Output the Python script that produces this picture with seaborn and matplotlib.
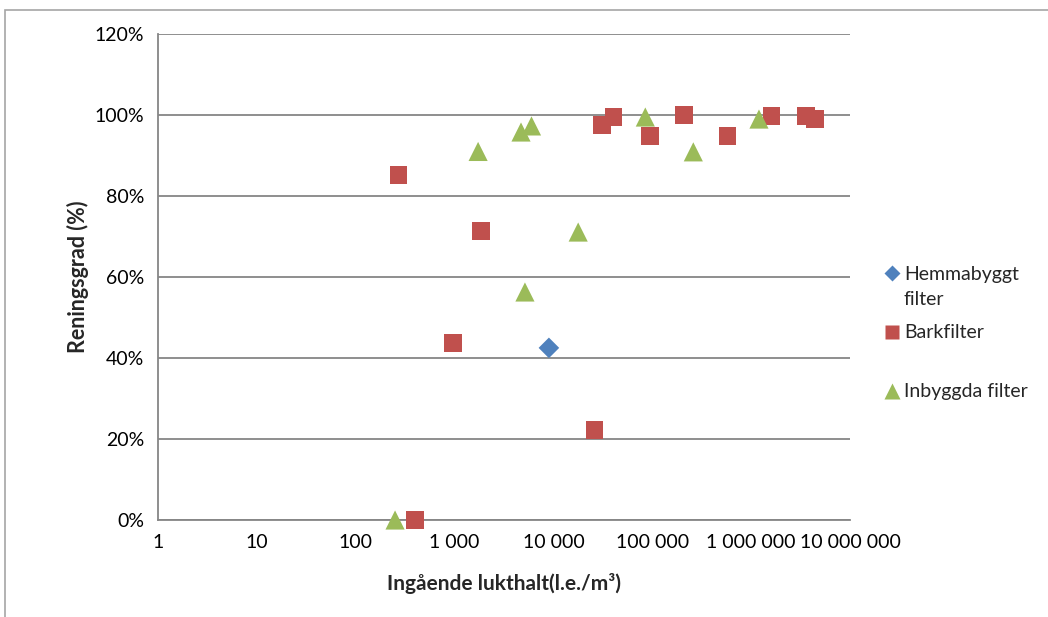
import seaborn as sns
from matplotlib import pyplot as plt
from matplotlib.patches import Rectangle
import pandas as pd

# Values (x = inlet odour, y = removal %)
hemma_x = [9000]
hemma_y = [42.5]

bark_x = [270, 400, 970, 1860, 25900, 31000, 40500, 95000, 210000, 575000, 1600000, 3600000, 4450000]
bark_y = [85.2, 0, 43.7, 71.4, 22.2, 97.5, 99.5, 94.8, 100, 94.8, 99.8, 99.8, 99.0]

inb_x = [250, 1730, 4700, 6000, 17800, 5150, 85000, 260000, 1200000]
inb_y = [0, 91.0, 95.8, 97.3, 71.1, 56.3, 99.5, 90.9, 99.0]

groups = ['Hemmabyggt filter', 'Barkfilter', 'Inbyggda filter']
colors = ['#4F81BD', '#C0504D', '#9BBB59']
marks = ['D', 's', '^']
msizes = [110, 160, 190]

xticks = [1, 10, 100, 1000, 10000, 100000, 1000000, 10000000]
xticklabels = ['1', '10', '100', '1 000', '10 000', '100 000', '1 000 000', '10 000 000']
yticks = [0, 20, 40, 60, 80, 100, 120]

df = pd.DataFrame({
    'x': hemma_x + bark_x + inb_x,
    'y': hemma_y + bark_y + inb_y,
    'grupp': [groups[0]] * len(hemma_x) + [groups[1]] * len(bark_x) + [groups[2]] * len(inb_x),
})

sns.set_style('white')
plt.rcParams['font.family'] = ['Lato', 'DejaVu Sans']
gray = '#868686'

fig = plt.figure(figsize=(10.48, 6.17), dpi=100)
fig.patches.append(Rectangle((5 / 1048, -0.1), 1.2, (617 - 10) / 617 + 0.1, transform=fig.transFigure,
                             fill=False, edgecolor='#A6A6A6', linewidth=1.2))
ax = fig.add_axes([158 / 1048, 1 - 520 / 617, (850 - 158) / 1048, (520 - 34) / 617])

sns.scatterplot(data=df, x='x', y='y', hue='grupp', style='grupp', size='grupp',
                hue_order=groups, style_order=groups, size_order=groups,
                palette=dict(zip(groups, colors)), markers=dict(zip(groups, marks)),
                sizes=dict(zip(groups, msizes)), edgecolor='none', ax=ax, zorder=3, clip_on=False)

ax.set_xscale('log')
ax.set_xlim(1, 1e7)
ax.set_ylim(0, 120)
ax.set_xticks(xticks)
ax.set_xticklabels(xticklabels)
ax.minorticks_off()
ax.set_yticks(yticks)
ax.set_yticklabels([f'{v}%' for v in yticks])
ax.tick_params(labelsize=14, colors=gray, labelcolor='black', length=5, width=1.2, pad=5)

ax.yaxis.grid(True, color=gray, linewidth=1.3)
ax.set_axisbelow(True)
for side in ['top', 'right']:
    ax.spines[side].set_visible(False)
for side in ['left', 'bottom']:
    ax.spines[side].set_color(gray)
    ax.spines[side].set_linewidth(1.3)

ax.set_xlabel('Ingående lukthalt(l.e./m³)', fontsize=15, fontweight='bold', labelpad=16)
ax.set_ylabel('Reningsgrad (%)', fontsize=15.5, fontweight='bold', labelpad=4)

# legend: first label wraps onto a second line like in Excel
handles, labels = ax.get_legend_handles_labels()
ax.get_legend().remove()
labels = ['Hemmabyggt', 'Barkfilter', 'Inbyggda filter']
leg = fig.legend(handles, labels, loc='center left', bbox_to_anchor=(866 / 1048, 1 - 333 / 617),
                 frameon=False, fontsize=14, labelspacing=2.15, handletextpad=0.15, handlelength=0.9,
                 markerscale=0.8)
fig.canvas.draw()
bb = leg.get_texts()[0].get_window_extent().transformed(fig.transFigure.inverted())
fig.text(bb.x0, bb.y0 - 25 / 617, 'filter', fontsize=14, va='bottom', ha='left')

fig.savefig('out.png', dpi=100)
